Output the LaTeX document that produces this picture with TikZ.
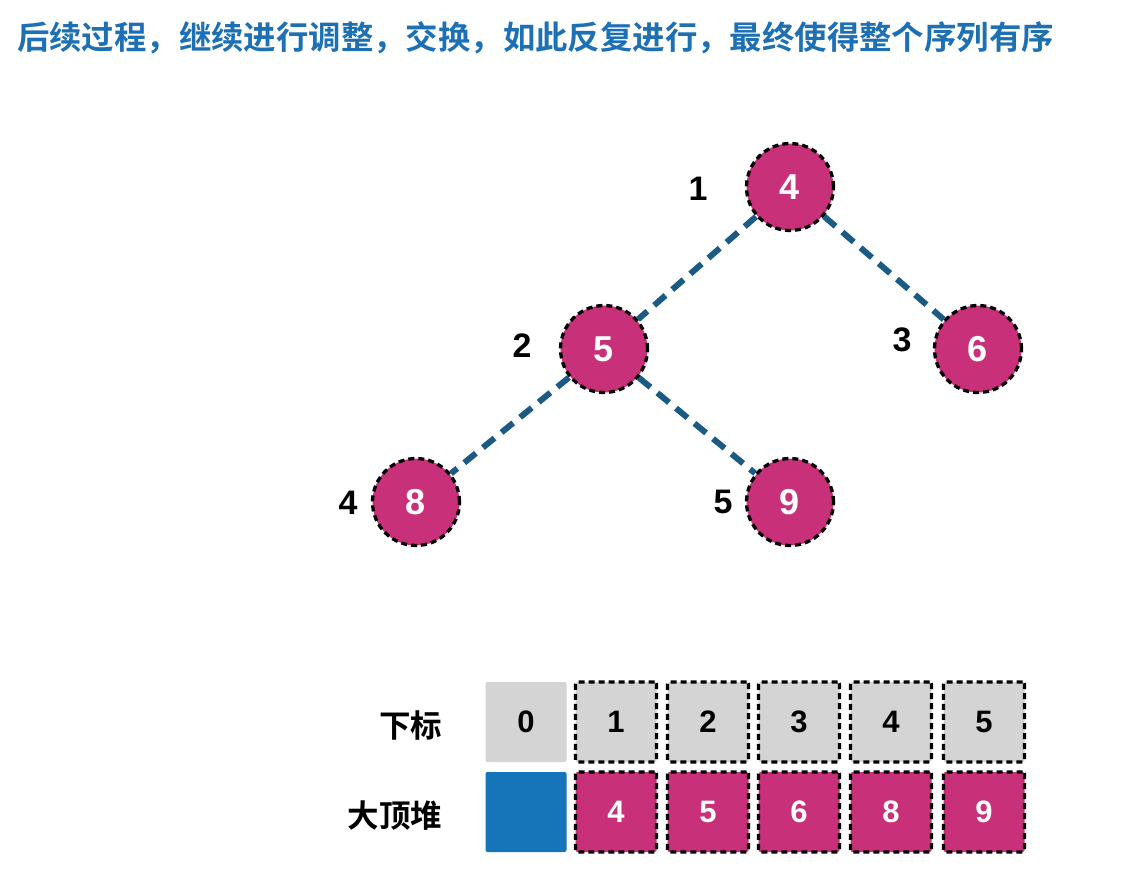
\documentclass[tikz,border=0pt]{standalone}
\usepackage{fontspec}
\setmainfont{Liberation Sans}
\newfontfamily\cjk[BoldFont={Noto Sans CJK SC Bold}]{Noto Sans CJK SC}
\definecolor{titleblue}{HTML}{1D70B4}
\definecolor{edgeblue}{HTML}{1B5A83}
\definecolor{mag}{HTML}{C8307A}
\definecolor{cellgray}{HTML}{D4D4D4}
\definecolor{blockblue}{HTML}{1674B8}
\tikzset{
  hnode/.style={circle, minimum size=87pt, inner sep=0pt, fill=mag, draw=black, line width=3.3pt, dash pattern=on 6pt off 4pt, text=white, font=\bfseries\fontsize{36}{36}\selectfont},
  idx/.style={font=\bfseries\fontsize{34}{34}\selectfont, text=black},
  hedge/.style={edgeblue, line width=6pt, dash pattern=on 15pt off 9pt},
  cellbase/.style={minimum width=81pt, minimum height=80pt, inner sep=0pt, rounded corners=2pt, font=\bfseries\fontsize{31}{31}\selectfont},
  idxcell/.style={cellbase, fill=cellgray, draw=black, line width=3.2pt, dash pattern=on 6pt off 4pt, text=black},
  valcell/.style={cellbase, fill=mag, draw=black, line width=3.2pt, dash pattern=on 6pt off 4pt, text=white},
  rowlabel/.style={anchor=east, font=\cjk\bfseries\fontsize{31.5}{32}\selectfont, text=black},
}
\begin{document}
\begin{tikzpicture}[x=1pt, y=-1pt]
\useasboundingbox (0,0) rectangle (1128,886);
\node[anchor=west, inner sep=0pt, text=titleblue, font=\cjk\bfseries\fontsize{32.4}{33}\selectfont] (title) at (17,38) {后续过程，继续进行调整，交换，如此反复进行，最终使得整个序列有序};
% tree nodes
\node[hnode] (n1) at (790,187) {4};
\node[hnode] (n2) at (604,349) {5};
\node[hnode] (n3) at (978,349) {6};
\node[hnode] (n4) at (416,502) {8};
\node[hnode] (n5) at (790,502) {9};
% edges
\draw[hedge] (n1) -- (n2);
\draw[hedge] (n1) -- (n3);
\draw[hedge] (n2) -- (n4);
\draw[hedge] (n2) -- (n5);
% index labels
\node[idx] (l1) at (698,189) {1};
\node[idx] (l2) at (522,346) {2};
\node[idx] (l3) at (902,340) {3};
\node[idx] (l4) at (348,503) {4};
\node[idx] (l5) at (723,502) {5};
% array
\node[cellbase, fill=cellgray, text=black] (i0) at (526,722) {0};
\node[idxcell] (i1) at (616,722) {1};
\node[idxcell] (i2) at (708,722) {2};
\node[idxcell] (i3) at (799,722) {3};
\node[idxcell] (i4) at (891,722) {4};
\node[idxcell] (i5) at (984,722) {5};
\node[cellbase, fill=blockblue] (v0) at (526,812) {};
\node[valcell] (v1) at (616,812) {4};
\node[valcell] (v2) at (708,812) {5};
\node[valcell] (v3) at (799,812) {6};
\node[valcell] (v4) at (891,812) {8};
\node[valcell] (v5) at (984,812) {9};
\node[rowlabel] (r1) at (446,726) {下标};
\node[rowlabel] (r2) at (446,816) {大顶堆};
\end{tikzpicture}
\end{document}
